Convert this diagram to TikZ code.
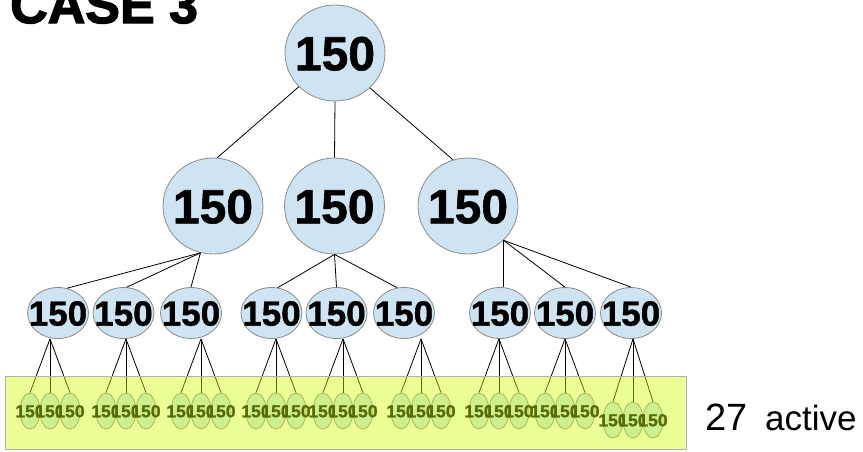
\documentclass[tikz,border=0pt]{standalone}
\usepackage{fontspec}
\setmainfont{Liberation Sans}
\newfontfamily\heavy{Liberation Sans Bold}[FakeBold=1.2]
\newfontfamily\heavytitle{Liberation Sans Bold}[FakeBold=2.5]
\definecolor{nodeblue}{RGB}{206,228,242}
\definecolor{nodegrey}{RGB}{140,140,140}
\definecolor{boxyellow}{RGB}{207,255,5}
\definecolor{boxgrey}{RGB}{175,175,175}
\newcommand\nt[1]{\makebox[0pt]{\raisebox{-0.36em}[0pt][0pt]{#1}}}
\tikzset{
  bub/.style={ellipse, draw=nodegrey, fill=nodeblue, inner sep=0pt, line width=0.8pt},
  bignode/.style={bub, minimum width=100pt, minimum height=96pt, font=\heavy\fontsize{48}{48}\selectfont},
  midnode/.style={bub, minimum width=61pt, minimum height=51pt, font=\heavy\fontsize{35}{35}\selectfont},
  leafnode/.style={bub, minimum width=20pt, minimum height=36pt, font=\heavy\fontsize{17.5}{17.5}\selectfont},
  edge/.style={draw=black, line width=0.8pt},
}
\usetikzlibrary{shapes.geometric}
\begin{document}
\begin{tikzpicture}[x=1pt,y=-1pt]
\useasboundingbox (0,0) rectangle (863,451);
% title
\node[anchor=base west, inner sep=0pt, font=\heavytitle\fontsize{52}{52}\selectfont] (title) at (10,23) {CASE 3};
% root and level 2
\node[bignode] (r) at (335,53) {\nt{150}};
\node[bignode] (a) at (213,206) {\nt{150}};
\node[bignode] (b) at (334.5,206) {\nt{150}};
\node[bignode] (c) at (468,206) {\nt{150}};
% level 3
\foreach \n/\x in {1/58,2/123.5,3/191,4/271.5,5/336.5,6/404,7/500,8/565,9/631}
  \node[midnode] (m\n) at (\x,313) {\nt{150}};
% leaves
\foreach \n/\x/\y in {1/50/411,2/126/411,3/201/411,4/276/411,5/343/411,6/421/411,7/499/411,8/565/411,9/633/420}{
  \node[leafnode] (f\n a) at (\x-20,\y) {\nt{150}};
  \node[leafnode] (f\n b) at (\x,\y) {\nt{150}};
  \node[leafnode] (f\n c) at (\x+20,\y) {\nt{150}};
  \coordinate (p\n) at (f\n b |- m\n.south);
  \draw[edge] (p\n) -- (f\n a.north);
  \draw[edge] (p\n) -- (f\n b.north);
  \draw[edge] (p\n) -- (f\n c.north);
}
% root to level 2
\draw[edge] (r.223) -- (a.85);
\draw[edge] (r.south) -- (b.north);
\draw[edge] (r.315) -- (c.108);
% level 2 to level 3
\coordinate (qa) at (a.255);
\coordinate (qb) at (b.south);
\coordinate (qc) at (c.-44);
\draw[edge] (qa) -- (m1.70);
\draw[edge] (qa) -- (m2.83);
\draw[edge] (qa) -- (m3.north);
\draw[edge] (qb) -- (m4.76);
\draw[edge] (qb) -- (m5.north);
\draw[edge] (qb) -- (m6.105);
\draw[edge] (qc) -- (qc |- m7.north);
\draw[edge] (qc) -- (m8.north);
\draw[edge] (qc) -- (m9.north);
% translucent box
\draw[draw=boxgrey, fill=boxyellow, fill opacity=0.42, line width=1pt] (5,376) rectangle (686,449);
% label
\node[anchor=base west, inner sep=0pt, font=\fontsize{38}{38}\selectfont] (n27) at (705,430) {27};
\node[anchor=base west, inner sep=0pt, font=\fontsize{35}{35}\selectfont] (act) at (765,430) {active};
\end{tikzpicture}
\end{document}
